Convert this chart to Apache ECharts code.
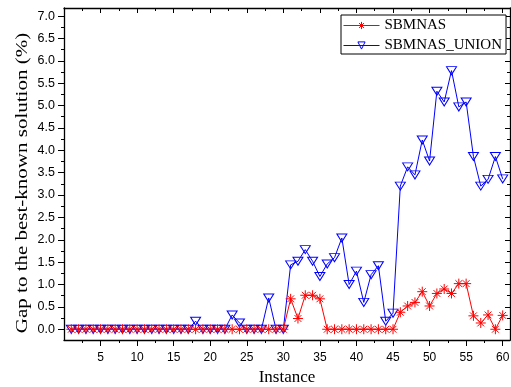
<!DOCTYPE html>
<html>
<head>
<meta charset="utf-8">
<script src="https://cdn.jsdelivr.net/npm/echarts@6/dist/echarts.min.js"></script>
<style>
  html, body { margin: 0; padding: 0; background: #fff; }
  #chart { width: 511px; height: 387px; }
</style>
</head>
<body>
<div id="chart"></div>
<script>
// Instance numbers on the x axis
const instances = [1, 2, 3, 4, 5, 6, 7, 8, 9, 10, 11, 12, 13, 14, 15, 16, 17, 18, 19, 20,
  21, 22, 23, 24, 25, 26, 27, 28, 29, 30, 31, 32, 33, 34, 35, 36, 37, 38, 39, 40,
  41, 42, 43, 44, 45, 46, 47, 48, 49, 50, 51, 52, 53, 54, 55, 56, 57, 58, 59, 60];

// Gap (%) of each algorithm to the best-known solution
const sbmnas = [0, 0, 0, 0, 0, 0, 0, 0, 0, 0, 0, 0, 0, 0, 0, 0, 0, 0, 0, 0,
  0, 0, 0, 0, 0, 0, 0, 0, 0, 0, 0.68, 0.24, 0.76, 0.76, 0.68, 0, 0, 0, 0, 0,
  0, 0, 0, 0, 0, 0.38, 0.52, 0.6, 0.84, 0.52, 0.8, 0.9, 0.8, 1.02, 1.02, 0.3, 0.14, 0.32, 0, 0.31];

const sbmnasUnion = [0, 0, 0, 0, 0, 0, 0, 0, 0, 0, 0, 0, 0, 0, 0, 0, 0, 0.18, 0, 0,
  0, 0, 0.32, 0.14, 0, 0, 0, 0.7, 0, 0, 1.44, 1.52, 1.78, 1.52, 1.18, 1.46, 1.6, 2.04, 1.0, 1.3,
  0.6, 1.22, 1.42, 0.18, 0.36, 3.2, 3.63, 3.45, 4.23, 3.76, 5.32, 5.08, 5.78, 4.97, 5.08, 3.86, 3.2, 3.35, 3.86, 3.36];

// Tick positions
const xMajorTicks = [5, 10, 15, 20, 25, 30, 35, 40, 45, 50, 55, 60];
const xMinorTicks = [2.5, 7.5, 12.5, 17.5, 22.5, 27.5, 32.5, 37.5, 42.5, 47.5, 52.5, 57.5];
const yMajorTicks = [0, 0.5, 1, 1.5, 2, 2.5, 3, 3.5, 4, 4.5, 5, 5.5, 6, 6.5, 7];
const yMinorTicks = [0.25, 0.75, 1.25, 1.75, 2.25, 2.75, 3.25, 3.75, 4.25, 4.75, 5.25, 5.75, 6.25, 6.75, 7.25, -0.25];

const X_MIN = 0, X_MAX = 61, Y_MIN = -0.24, Y_MAX = 7.18;

const serif = '"Liberation Serif", "Times New Roman", serif';
const sans = '"Liberation Sans", Arial, sans-serif';

const pairs = (vals) => instances.map((x, i) => [x, vals[i]]);

const starSymbol = 'path://M5,0 L5,10 M0,5 L10,5 M1.6,1.6 L8.4,8.4 M1.6,8.4 L8.4,1.6';
const downTriangle = 'path://M0,0 L10,0 L5,9 Z';

function xAxisDef(pos, ticks, len, inside, labels, line) {
  return {
    type: 'value', position: pos, min: X_MIN, max: X_MAX,
    axisLine: { show: line, onZero: false, lineStyle: { color: '#000', width: 1.3 } },
    axisTick: { show: true, inside: inside, length: len, customValues: ticks,
      lineStyle: { color: '#000', width: 1 } },
    axisLabel: labels ? { show: true, customValues: ticks, color: '#000',
      fontFamily: sans, fontSize: 12, margin: 12 } : { show: false },
    splitLine: { show: false }
  };
}
function yAxisDef(pos, ticks, len, inside, labels, line) {
  return {
    type: 'value', position: pos, min: Y_MIN, max: Y_MAX,
    axisLine: { show: line, onZero: false, lineStyle: { color: '#000', width: 1.3 } },
    axisTick: { show: true, inside: inside, length: len, customValues: ticks,
      lineStyle: { color: '#000', width: 1 } },
    axisLabel: labels ? { show: true, customValues: ticks, color: '#000',
      fontFamily: sans, fontSize: 12.5, margin: 9,
      formatter: (v) => v.toFixed(1) } : { show: false },
    splitLine: { show: false }
  };
}

const xMain = xAxisDef('bottom', xMajorTicks, 6, false, true, true);
xMain.name = 'Instance';
xMain.nameLocation = 'middle';
xMain.nameGap = 27;
xMain.nameTextStyle = { fontFamily: serif, fontSize: 17, color: '#000' };

const chart = echarts.init(document.getElementById('chart'), null, { renderer: 'canvas' });
chart.setOption({
  animation: false,
  backgroundColor: '#fff',
  grid: { left: 64, right: 1, top: 8, bottom: 47, containLabel: false, outerBoundsMode: 'none' },
  xAxis: [
    xMain,
    xAxisDef('bottom', xMinorTicks, 3, false, false, false),
    xAxisDef('top', xMajorTicks, 5, true, false, true),
    xAxisDef('top', xMinorTicks, 3, true, false, false)
  ],
  yAxis: [
    yAxisDef('left', yMajorTicks, 6, false, true, true),
    yAxisDef('left', yMinorTicks, 3, false, false, false),
    yAxisDef('right', yMajorTicks, 5, true, false, true),
    yAxisDef('right', yMinorTicks, 3, true, false, false)
  ],
  legend: {
    orient: 'vertical',
    left: 341, top: 15,
    width: 163,
    padding: [3, 4, 1, 2],
    itemGap: 5,
    itemWidth: 36, itemHeight: 9,
    borderColor: '#000', borderWidth: 1,
    backgroundColor: '#fff',
    itemStyle: { borderWidth: 1 },
    lineStyle: { width: 1 },
    textStyle: { fontFamily: serif, fontSize: 15, color: '#000', lineHeight: 15 },
    data: ['SBMNAS', 'SBMNAS_UNION']
  },
  graphic: [{
    type: 'text',
    x: 22, y: 183,
    rotation: Math.PI / 2,
    scaleX: 1.2,
    style: {
      text: 'Gap to the best-known solution (%)',
      fontFamily: serif, fontSize: 17.5, fill: '#000',
      align: 'center', verticalAlign: 'middle'
    }
  }],
  series: [
    {
      name: 'SBMNAS_UNION', type: 'line', z: 2,
      data: pairs(sbmnasUnion),
      symbol: downTriangle, symbolSize: [10, 8],
      lineStyle: { color: '#0000ff', width: 1 },
      itemStyle: { color: 'rgba(0,0,0,0)', borderColor: '#0000ff', borderWidth: 1 }
    },
    {
      name: 'SBMNAS', type: 'line', z: 3,
      data: pairs(sbmnas),
      symbol: starSymbol, symbolSize: 10,
      lineStyle: { color: '#ff0000', width: 1 },
      itemStyle: { color: '#ff0000', borderColor: '#ff0000', borderWidth: 1 }
    }
  ]
});
</script>
</body>
</html>
